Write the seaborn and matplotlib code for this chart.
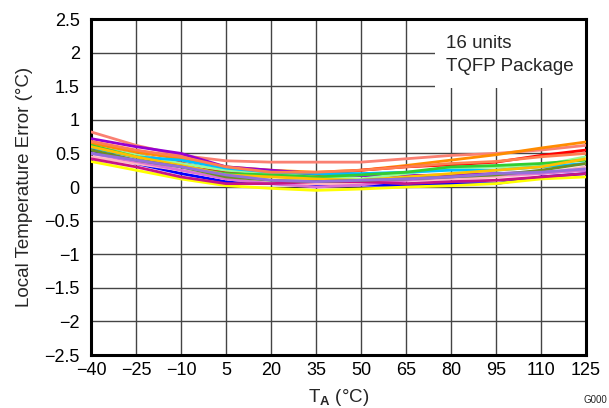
import numpy as np
import pandas as pd
import matplotlib
matplotlib.use("Agg")
import matplotlib.pyplot as plt
import seaborn as sns
from matplotlib.patches import Rectangle

# temperature sweep (deg C)
temps = [-40, -25, -10, 5, 20, 35, 50, 65, 80, 95, 110, 125]

# error curves, one per unit
unit_salmon = [0.82, 0.62, 0.47, 0.39, 0.37, 0.37, 0.37, 0.42, 0.47, 0.50, 0.55, 0.62]
unit_orange = [0.65, 0.52, 0.42, 0.30, 0.25, 0.22, 0.25, 0.32, 0.40, 0.48, 0.58, 0.67]
unit_red = [0.60, 0.48, 0.36, 0.22, 0.20, 0.18, 0.25, 0.30, 0.33, 0.37, 0.47, 0.55]
unit_violet = [0.72, 0.60, 0.50, 0.30, 0.25, 0.20, 0.17, 0.17, 0.18, 0.20, 0.22, 0.25]
unit_palegreen = [0.60, 0.48, 0.35, 0.25, 0.20, 0.15, 0.12, 0.20, 0.28, 0.30, 0.32, 0.45]
unit_skyblue = [0.58, 0.45, 0.40, 0.28, 0.22, 0.20, 0.20, 0.22, 0.25, 0.25, 0.30, 0.35]
unit_blue = [0.55, 0.35, 0.20, 0.08, 0.05, 0.03, 0.03, 0.02, 0.05, 0.05, 0.15, 0.20]
unit_lime = [0.62, 0.45, 0.30, 0.20, 0.18, 0.15, 0.18, 0.22, 0.30, 0.32, 0.35, 0.40]
unit_gold = [0.60, 0.45, 0.32, 0.18, 0.15, 0.12, 0.10, 0.15, 0.20, 0.25, 0.30, 0.42]
unit_yellow = [0.38, 0.25, 0.12, 0.02, -0.02, -0.05, -0.03, 0.00, 0.02, 0.05, 0.12, 0.15]
unit_pink = [0.45, 0.35, 0.25, 0.12, 0.05, 0.05, 0.05, 0.10, 0.12, 0.15, 0.20, 0.30]
unit_orchid = [0.50, 0.38, 0.25, 0.12, 0.05, 0.00, 0.03, 0.10, 0.15, 0.18, 0.20, 0.25]
unit_mvred = [0.42, 0.30, 0.15, 0.05, 0.05, 0.08, 0.08, 0.05, 0.08, 0.10, 0.15, 0.20]
unit_olive = [0.55, 0.40, 0.30, 0.15, 0.10, 0.08, 0.10, 0.12, 0.15, 0.18, 0.25, 0.35]
unit_purple = [0.50, 0.40, 0.30, 0.18, 0.10, 0.08, 0.10, 0.12, 0.15, 0.20, 0.22, 0.27]
unit_coral = [0.68, 0.55, 0.45, 0.30, 0.22, 0.22, 0.25, 0.30, 0.35, 0.38, 0.45, 0.50]

units = {
    "salmon": unit_salmon, "darkorange": unit_orange, "red": unit_red,
    "darkviolet": unit_violet, "palegreen": unit_palegreen,
    "deepskyblue": unit_skyblue, "blue": unit_blue, "limegreen": unit_lime,
    "#FFC000": unit_gold, "yellow": unit_yellow, "lightpink": unit_pink,
    "orchid": unit_orchid, "mediumvioletred": unit_mvred,
    "olivedrab": unit_olive, "mediumpurple": unit_purple, "coral": unit_coral,
}

xticks = [-40, -25, -10, 5, 20, 35, 50, 65, 80, 95, 110, 125]
yticks = [-2.5, -2, -1.5, -1, -0.5, 0, 0.5, 1, 1.5, 2, 2.5]

rows = []
for name, vals in units.items():
    for t, v in zip(temps, vals):
        rows.append({"unit": name, "temp": t, "err": v})
df = pd.DataFrame(rows)

sns.set_style("white")
plt.rcParams["font.family"] = ["Liberation Sans", "DejaVu Sans"]
plt.rcParams["mathtext.fontset"] = "custom"
plt.rcParams["mathtext.rm"] = "Liberation Sans"
plt.rcParams["mathtext.bf"] = "Liberation Sans:bold"

fig = plt.figure(figsize=(6.09, 4.08), dpi=100)
ax = fig.add_axes([0.1494, 0.1299, 0.8128, 0.8235])

sns.lineplot(data=df, x="temp", y="err", hue="unit",
             palette={k: k for k in units}, linewidth=2.0,
             legend=False, ax=ax, zorder=3)

ax.set_xlim(-40, 125)
ax.set_ylim(-2.5, 2.5)
ax.set_xticks(xticks)
ax.set_yticks(yticks)
ax.set_yticklabels([f"{v:g}".replace("-", "\u2212") for v in yticks])
ax.tick_params(length=0, labelsize=13, colors="black")
ax.tick_params(axis="y", pad=8)
ax.tick_params(axis="x", pad=5)
ax.grid(True, color="#444444", linewidth=1.0)
ax.set_axisbelow(True)
for sp in ax.spines.values():
    sp.set_color("black")
    sp.set_linewidth(2.2)

# white box behind the annotation hides the grid there
ax.add_patch(Rectangle((74.7, 1.47), 125 - 74.7, 2.5 - 1.47,
                       facecolor="white", edgecolor="none", zorder=1))
ax.text(78.5, 2.13, "16 units", fontsize=13.5, va="center", zorder=4)
ax.text(78.5, 1.80, "TQFP Package", fontsize=13.5, va="center", zorder=4)

ax.set_xlabel(r"T$_\mathbf{A}$ (°C)", fontsize=13.5, labelpad=6)
ax.set_ylabel("Local Temperature Error (°C)", fontsize=13.5, labelpad=8)
fig.text(0.958, 0.012, "G000", fontsize=7)

fig.savefig("out.png", dpi=100)
